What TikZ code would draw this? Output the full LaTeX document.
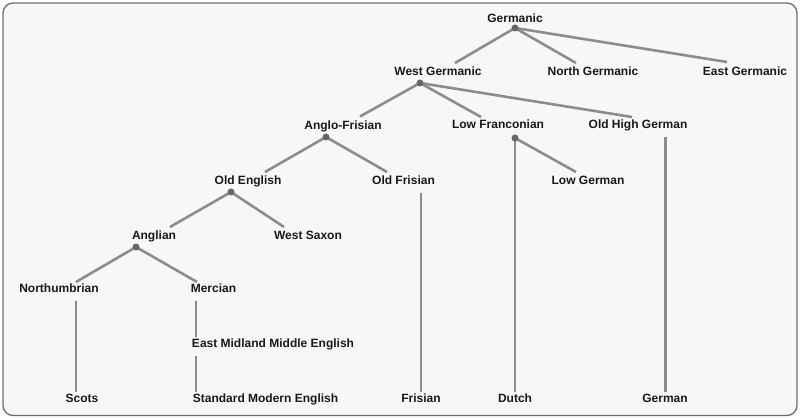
\documentclass[tikz,border=0pt]{standalone}
\usepackage{fontspec}
\setmainfont{Liberation Sans}
\definecolor{bgfill}{HTML}{F7F7F7}
\definecolor{bordergray}{HTML}{6E6E6E}
\definecolor{linegray}{HTML}{8C8C8C}
\definecolor{dotgray}{HTML}{666666}
\begin{document}
\begin{tikzpicture}[x=1pt,y=-1pt,
  lab/.style={font=\bfseries\fontsize{12}{14}\selectfont, anchor=base, inner sep=0pt, text=black!90},
  br/.style={draw=linegray, line width=2.6pt},
  knot/.style={circle, fill=dotgray, inner sep=0pt, minimum size=7pt}]
\useasboundingbox (0,0) rectangle (800,419);
\draw[draw=bordergray, fill=bgfill, line width=1.3pt, rounded corners=10pt] (3,3) rectangle (797,415.5);
% labels
\node[lab] (ger) at (515,22.5) {Germanic};
\node[lab] (wg) at (438,75.5) {West Germanic};
\node[lab] (ng) at (593,75.5) {North Germanic};
\node[lab] (eg) at (745,75.5) {East Germanic};
\node[lab] (af) at (343,129.5) {Anglo-Frisian};
\node[lab] (lf) at (498,129) {Low Franconian};
\node[lab] (ohg) at (638,129) {Old High German};
\node[lab] (oe) at (248,184.5) {Old English};
\node[lab] (of) at (403.5,184.5) {Old Frisian};
\node[lab] (lg) at (588,184.5) {Low German};
\node[lab] (ang) at (154,239.5) {Anglian};
\node[lab] (ws) at (308,239.5) {West Saxon};
\node[lab] (nor) at (59,293) {Northumbrian};
\node[lab] (mer) at (213.5,293) {Mercian};
\node[lab] (emme) at (273,348) {East Midland Middle English};
\node[lab] (sco) at (82,402.5) {Scots};
\node[lab] (sme) at (265.5,402.5) {Standard Modern English};
\node[lab] (fri) at (421,402.5) {Frisian};
\node[lab] (dut) at (515,402.5) {Dutch};
\node[lab] (gm) at (665,402.5) {German};
% connector points
\coordinate (dGer) at (515,28);
\coordinate (tWG) at (455,63);
\coordinate (tNG) at (576,63);
\coordinate (tEG) at (727,62);
\coordinate (dWG) at (420,83);
\coordinate (tAF) at (360,116.5);
\coordinate (tLF) at (481,117);
\coordinate (tOHG) at (632,117);
\coordinate (dLF) at (515,138);
\coordinate (tLG) at (576,172);
\coordinate (bDut) at (515,392);
\coordinate (sOHG) at (665.5,137);
\coordinate (bGm) at (665.5,392);
\coordinate (dAF) at (326,137);
\coordinate (tOE) at (265,172);
\coordinate (tOF) at (387,172);
\coordinate (sOF) at (421,193);
\coordinate (bFri) at (421,392);
\coordinate (dOE) at (231,192);
\coordinate (tAng) at (170,227);
\coordinate (tWS) at (284,227);
\coordinate (dAng) at (136,247);
\coordinate (tNor) at (76,282);
\coordinate (tMer) at (197,282);
\coordinate (sNor) at (76,301);
\coordinate (bSco) at (76,392);
\coordinate (sMer) at (196,301);
\coordinate (tEMME) at (196,337);
\coordinate (sEMME) at (196,356);
\coordinate (bSME) at (196,392);
% connectors
\draw[br] (dGer) -- (tWG);
\draw[br] (dGer) -- (tNG);
\draw[br] (dGer) -- (tEG);
\draw[br] (dWG) -- (tAF);
\draw[br] (dWG) -- (tLF);
\draw[br] (dWG) -- (tOHG);
\draw[br] (dLF) -- (tLG);
\draw[br] (dLF) -- (bDut);
\draw[br] (sOHG) -- (bGm);
\draw[br] (dAF) -- (tOE);
\draw[br] (dAF) -- (tOF);
\draw[br] (sOF) -- (bFri);
\draw[br] (dOE) -- (tAng);
\draw[br] (dOE) -- (tWS);
\draw[br] (dAng) -- (tNor);
\draw[br] (dAng) -- (tMer);
\draw[br] (sNor) -- (bSco);
\draw[br] (sMer) -- (tEMME);
\draw[br] (sEMME) -- (bSME);
% knots
\node[knot] (kGer) at (dGer) {};
\node[knot] (kWG) at (dWG) {};
\node[knot] (kLF) at (dLF) {};
\node[knot] (kAF) at (dAF) {};
\node[knot] (kOE) at (dOE) {};
\node[knot] (kAng) at (dAng) {};
\end{tikzpicture}
\end{document}
